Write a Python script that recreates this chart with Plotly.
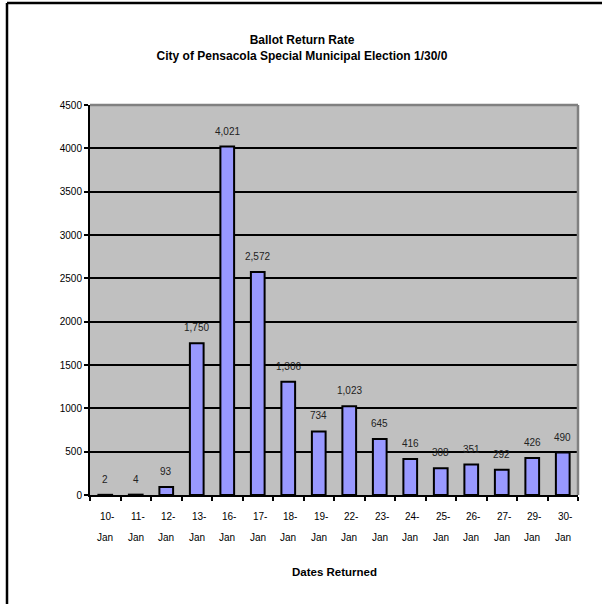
import plotly.graph_objects as go

# Ballots returned per day
dates = ["10-Jan", "11-Jan", "12-Jan", "13-Jan", "16-Jan", "17-Jan", "18-Jan", "19-Jan",
         "22-Jan", "23-Jan", "24-Jan", "25-Jan", "26-Jan", "27-Jan", "29-Jan", "30-Jan"]
ballots = [2, 4, 93, 1750, 4021, 2572, 1306, 734, 1023, 645, 416, 308, 351, 292, 426, 490]
y_ticks = [0, 500, 1000, 1500, 2000, 2500, 3000, 3500, 4000, 4500]

FONT = "Liberation Sans, Arial, sans-serif"
W, H = 602, 604
L, R, T, B = 90, 24, 105, 109
plot_h = H - T - B
plot_w = W - L - R


def py(pix):
    """Pixel row -> paper y."""
    return (H - B - pix) / plot_h


def px(pix):
    """Pixel column -> paper x."""
    return (pix - L) / plot_w


fig = go.Figure(
    go.Bar(
        x=dates,
        y=ballots,
        marker=dict(color="#9999FF", line=dict(color="black", width=2)),
        width=0.45,
        hoverinfo="x+y",
    )
)

annotations = []
# value labels above each bar
for d, v in zip(dates, ballots):
    annotations.append(dict(
        x=d, y=v, xref="x", yref="y", text=f"{v:,}", showarrow=False,
        yanchor="bottom", yshift=8, font=dict(family=FONT, size=10, color="#222"),
    ))
# two-line category labels
for d in dates:
    day, mon = d.split("-")
    annotations.append(dict(
        x=d, y=py(516), xref="x", yref="paper", text=day + "-", showarrow=False,
        yanchor="middle", xshift=2, font=dict(family=FONT, size=10, color="black"),
    ))
    annotations.append(dict(
        x=d, y=py(537), xref="x", yref="paper", text=mon, showarrow=False,
        yanchor="middle", font=dict(family=FONT, size=10, color="black"),
    ))
annotations.append(dict(
    x=0.5, y=py(572), xref="paper", yref="paper", text="<b>Dates Returned</b>",
    showarrow=False, yanchor="middle", font=dict(family=FONT, size=11.5, color="black"),
))

shapes = [
    # plot-area border (top and right) in grey
    dict(type="line", xref="paper", yref="paper", x0=0, x1=1, y0=1, y1=1,
         line=dict(color="#808080", width=2.5), layer="above"),
    dict(type="line", xref="paper", yref="paper", x0=1, x1=1, y0=0, y1=1,
         line=dict(color="#808080", width=2.5), layer="above"),
    # chart frame
    dict(type="line", xref="paper", yref="paper", x0=px(7), x1=px(610), y0=py(3), y1=py(3),
         line=dict(color="black", width=2.5)),
    dict(type="line", xref="paper", yref="paper", x0=px(7), x1=px(7), y0=py(3), y1=py(610),
         line=dict(color="black", width=2.5)),
]

fig.update_layout(
    width=W, height=H,
    margin=dict(l=L, r=R, t=T, b=B),
    paper_bgcolor="white",
    plot_bgcolor="#C0C0C0",
    showlegend=False,
    title=dict(
        text="<b>Ballot Return Rate<br>City of Pensacola Special Municipal Election 1/30/0</b>",
        x=302 / W, xref="container", xanchor="center",
        y=1 - 44 / H, yref="container", yanchor="middle",
        font=dict(family=FONT, size=12, color="black"),
    ),
    xaxis=dict(
        type="category", categoryorder="array", categoryarray=dates,
        showticklabels=False, showgrid=False, zeroline=False,
        showline=True, linecolor="black", linewidth=2,
        ticks="outside", tickson="boundaries", ticklen=4, tickwidth=2, tickcolor="black",
        range=[-0.5, len(dates) - 0.5],
    ),
    yaxis=dict(
        range=[0, 4500], tickvals=y_ticks, ticktext=[str(t) for t in y_ticks],
        showgrid=True, gridcolor="black", gridwidth=2, zeroline=False,
        showline=True, linecolor="black", linewidth=2,
        ticks="outside", ticklen=4, tickwidth=2, tickcolor="black",
        tickfont=dict(family=FONT, size=10, color="black"),
    ),
    annotations=annotations,
    shapes=shapes,
)

fig.write_html("out.html")
